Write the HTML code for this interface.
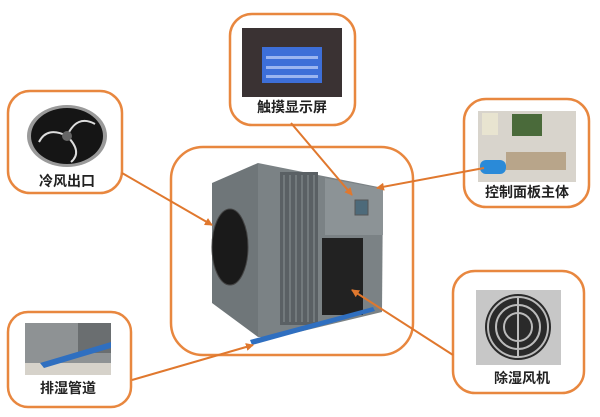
<!DOCTYPE html>
<html><head><meta charset="utf-8"><style>
html,body{margin:0;padding:0;background:#fff;width:600px;height:417px;overflow:hidden}
svg{display:block}
text{font-family:"Liberation Sans","Noto Sans CJK SC",sans-serif;font-size:14px;fill:#222;font-weight:bold}
</style></head><body>
<svg width="600" height="417" viewBox="0 0 600 417">
<defs>
<marker id="a" markerWidth="8" markerHeight="8" refX="7" refY="4" orient="auto" markerUnits="userSpaceOnUse"><path d="M0,0 L8,4 L0,8 z" fill="#e0782e"/></marker>
</defs>
<g fill="none" stroke="#e8873f" stroke-width="2.5">
<rect x="171" y="147" width="242" height="208" rx="32"/>
<rect x="230" y="14" width="125" height="111" rx="22"/>
<rect x="8" y="91" width="114" height="102" rx="22"/>
<rect x="464" y="99" width="125" height="108" rx="22"/>
<rect x="8" y="312" width="123" height="95" rx="20"/>
<rect x="453" y="271" width="131" height="122" rx="22"/>
</g>
<!-- machine -->
<polygon points="212,183 258,163 258,337 212,303" fill="#6f7679"/>
<polygon points="258,163 383,188 382,312 278,337 258,337" fill="#7b8285"/>
<rect x="280" y="172" width="38" height="153" fill="#5a6064"/>
<g stroke="#8b9295" stroke-width="1">
<line x1="284" y1="175" x2="284" y2="322"/><line x1="290" y1="175" x2="290" y2="322"/><line x1="296" y1="175" x2="296" y2="322"/><line x1="302" y1="175" x2="302" y2="322"/><line x1="308" y1="175" x2="308" y2="322"/><line x1="314" y1="175" x2="314" y2="322"/>
</g>
<polygon points="325,178 383,189 383,235 325,235" fill="#8c9396"/>
<rect x="355" y="200" width="13" height="15" fill="#4d6a7a" stroke="#555"/>
<rect x="322" y="238" width="41" height="77" fill="#222"/>
<ellipse cx="230" cy="247" rx="18" ry="38" fill="#1a1a1a" stroke="#444"/>
<polygon points="250,340 373,307 375,311 252,345" fill="#2f6fc0"/>
<!-- touch screen -->
<rect x="242" y="28" width="100" height="69" fill="#3a3233"/>
<rect x="262" y="47" width="60" height="36" fill="#3d6fd8"/>
<rect x="266" y="56" width="52" height="3" fill="#9bb5f0"/><rect x="266" y="66" width="52" height="3" fill="#9bb5f0"/><rect x="266" y="75" width="52" height="3" fill="#9bb5f0"/>
<!-- fan -->
<ellipse cx="67" cy="136" rx="40" ry="31" fill="#9a9a9a"/>
<ellipse cx="67" cy="136" rx="36" ry="28" fill="#151515"/>
<g stroke="#ddd" stroke-width="2" fill="none"><path d="M67,136 q-20,-10 -28,6"/><path d="M67,136 q10,-22 28,-12"/><path d="M67,136 q16,16 4,26"/></g>
<circle cx="67" cy="136" r="5" fill="#666"/>
<!-- control -->
<rect x="478" y="111" width="98" height="71" fill="#d8d4cc"/>
<rect x="512" y="114" width="30" height="22" fill="#4a6a3a"/>
<rect x="482" y="113" width="16" height="22" fill="#e8e4d0"/>
<rect x="480" y="160" width="26" height="14" rx="6" fill="#2a8ad8"/>
<rect x="506" y="152" width="60" height="18" fill="#b8a58a"/>
<!-- drain -->
<rect x="25" y="323" width="86" height="52" fill="#8e9294"/>
<rect x="78" y="323" width="33" height="30" fill="#6a6e70"/>
<rect x="25" y="363" width="86" height="12" fill="#d6d2ca"/>
<polygon points="40,363 111,342 111,348 44,368" fill="#2f6fc0"/>
<!-- dehumid fan -->
<rect x="476" y="290" width="85" height="75" fill="#c7c7c7"/>
<circle cx="518" cy="327" r="33" fill="#2a2a2a"/>
<g fill="none" stroke="#bbb" stroke-width="2"><circle cx="518" cy="327" r="30"/><circle cx="518" cy="327" r="22"/><circle cx="518" cy="327" r="14"/><line x1="518" y1="297" x2="518" y2="357"/></g>
<!-- connectors -->
<g stroke="#e0782e" stroke-width="2" marker-end="url(#a)">
<line x1="291" y1="123" x2="352" y2="195"/>
<line x1="122" y1="173" x2="212" y2="225"/>
<line x1="484" y1="168" x2="377" y2="188"/>
<line x1="132" y1="380" x2="253" y2="345"/>
<line x1="453" y1="355" x2="352" y2="290"/>
</g>
<text x="292" y="112" text-anchor="middle">触摸显示屏</text>
<text x="67" y="186" text-anchor="middle">冷风出口</text>
<text x="527" y="197" text-anchor="middle">控制面板主体</text>
<text x="68" y="393" text-anchor="middle">排湿管道</text>
<text x="522" y="383" text-anchor="middle">除湿风机</text>
</svg>
</body></html>
